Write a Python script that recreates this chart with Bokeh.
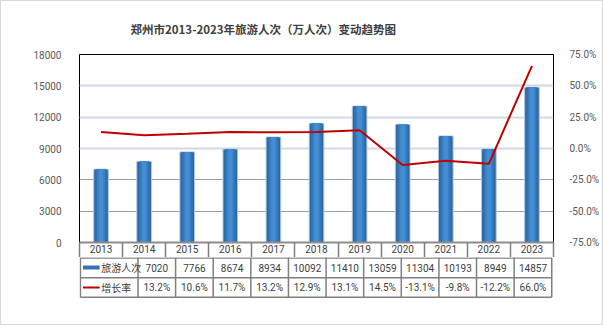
from bokeh.plotting import figure
from bokeh.models import (Range1d, LinearAxis, FixedTicker, PrintfTickFormatter,
                          Grid, Label, ColumnDataSource)
from bokeh.layouts import column
from bokeh.embed import file_html
from bokeh.resources import INLINE
from bokeh.core.properties import value

# ---------------- data ----------------
years = ["2013", "2014", "2015", "2016", "2017", "2018", "2019", "2020", "2021", "2022", "2023"]
visitors = [7020, 7766, 8674, 8934, 10092, 11410, 13059, 11304, 10193, 8949, 14857]
growth = [13.2, 10.6, 11.7, 13.2, 12.9, 13.1, 14.5, -13.1, -9.8, -12.2, 66.0]
left_ticks = [0, 3000, 6000, 9000, 12000, 15000, 18000]
right_ticks = [-75, -50, -25, 0, 25, 50, 75]
series_names = ["旅游人次", "增长率"]
title_text = "郑州市2013-2023年旅游人次（万人次）变动趋势图"
source_text = "数据来源：国家统计局， UHC合纵酒店顾问整理"

CJK = "Noto Sans CJK SC"
LAT = "Roboto"
TXT = "#404040"
AX = "#595959"
LC = "#7f7f7f"

n = len(years)
idx = list(range(n))

# ---------------- chart ----------------
p1 = figure(width=601, height=256, output_backend="svg", toolbar_location=None,
            x_range=Range1d(-0.5, n - 0.5), y_range=Range1d(left_ticks[0], left_ticks[-1]),
            x_axis_location=None, y_axis_location=None,
            min_border_left=78, min_border_right=49, min_border_top=50, min_border_bottom=15)
p1.extra_y_ranges = {"pct": Range1d(right_ticks[0], right_ticks[-1])}
p1.outline_line_color = "#000000"
p1.outline_line_width = 1
p1.xgrid.visible = False
p1.ygrid.visible = False
p1.border_fill_color = "white"

p1.title.text = title_text
p1.title.align = "left"
p1.title.offset = 51
p1.title.text_font = CJK
p1.title.text_font_size = "11.5px"
p1.title.text_font_style = "bold"
p1.title.text_color = TXT
p1.title.standoff = 35

ly = LinearAxis(ticker=FixedTicker(ticks=left_ticks))
ly.axis_line_color = None
ly.major_tick_line_color = None
ly.minor_tick_line_color = None
ly.major_label_standoff = 12
ly.major_label_text_font = LAT
ly.major_label_text_font_size = "10px"
ly.major_label_text_color = AX
p1.add_layout(ly, "left")

ry = LinearAxis(y_range_name="pct", ticker=FixedTicker(ticks=right_ticks),
                formatter=PrintfTickFormatter(format="%.1f%%"))
ry.axis_line_color = None
ry.major_tick_line_color = None
ry.minor_tick_line_color = None
ry.major_label_standoff = 10
ry.major_label_text_font = LAT
ry.major_label_text_font_size = "10px"
ry.major_label_text_color = AX
p1.add_layout(ry, "right")

# year row of the data table = x axis (separators as minor ticks)
xa = LinearAxis(ticker=FixedTicker(ticks=idx, minor_ticks=[i - 0.5 for i in range(n + 1)]),
                major_label_overrides={i: y for i, y in zip(idx, years)})
xa.axis_line_color = "#8c8c8c"
xa.axis_line_width = 2
xa.major_tick_line_color = None
xa.major_tick_out = 0
xa.major_tick_in = 0
xa.minor_tick_line_color = LC
xa.minor_tick_line_width = 1.5
xa.minor_tick_out = 16
xa.minor_tick_in = 0
xa.major_label_standoff = -14
xa.major_label_text_font = LAT
xa.major_label_text_font_size = "10px"
xa.major_label_text_color = TXT
p1.add_layout(xa, "below")

g_hi = Grid(dimension=1, ticker=FixedTicker(ticks=left_ticks[3:-1]),
            grid_line_color="#d2d8e4", grid_line_width=2)
g_lo = Grid(dimension=1, ticker=FixedTicker(ticks=left_ticks[1:3]),
            grid_line_color="#8d9fc2", grid_line_width=1)
p1.add_layout(g_hi)
p1.add_layout(g_lo)

src = ColumnDataSource(dict(x=idx, v=visitors, g=growth))
p1.vbar(x="x", top="v", width=0.34, source=src, fill_color="#2c66a4",
        line_color="#b3c8e2", line_width=1)
for w, c in [(0.26, "#3272b2"), (0.18, "#3a7fc1"), (0.10, "#438ed3")]:
    p1.vbar(x="x", top="v", width=w, source=src, fill_color=c, line_color=None)

p1.line(x="x", y="g", source=src, y_range_name="pct", line_color="#c00000", line_width=2)

# ---------------- data table (value rows) ----------------
px_per_unit = 474 / n
x_start = -0.5 - (79 - 12) / px_per_unit
x_end = n - 0.5 + 2 / px_per_unit
tbl_left = -0.5 - 66 / px_per_unit

p2 = figure(width=601, height=67, output_backend="svg", toolbar_location=None,
            x_range=Range1d(x_start, x_end), y_range=Range1d(-2, 40),
            x_axis_location=None, y_axis_location=None,
            min_border_left=11, min_border_right=47, min_border_top=0, min_border_bottom=25)
p2.outline_line_color = None
p2.xgrid.visible = False
p2.ygrid.visible = False
p2.border_fill_color = "white"

row1_top, row2_top, row_bot = 39.5, 19.7, 0.3
p2.segment(x0=[tbl_left] * 3, y0=[row1_top, row2_top, row_bot],
           x1=[n - 0.5] * 3, y1=[row1_top, row2_top, row_bot],
           line_color=LC, line_width=1.5)
vx = [i - 0.5 for i in range(n + 1)] + [tbl_left]
p2.segment(x0=vx, y0=[40] * len(vx), x1=vx, y1=[row_bot] * len(vx),
           line_color=LC, line_width=1.5)

tsrc = ColumnDataSource(dict(x=idx, v=[str(v) for v in visitors],
                             g=["%.1f%%" % g for g in growth]))
common = dict(text_align="center", text_baseline="middle", text_color=TXT,
              text_font=value(LAT), text_font_size="10px")
p2.text(x="x", y=29.8, text="v", source=tsrc, **common)
p2.text(x="x", y=9.9, text="g", source=tsrc, **common)

# legend keys
kx0 = x_start + 4 / px_per_unit
kx1 = x_start + 23 / px_per_unit
p2.quad(left=[kx0], right=[kx1], bottom=[28], top=[32], fill_color="#3274b4", line_color=None)
p2.segment(x0=[kx0], y0=[10], x1=[kx1], y1=[10], line_color="#c00000", line_width=2)
tx = x_start + 25 / px_per_unit
p2.text(x=[tx, tx], y=[29.8, 9.9], text=series_names, text_align="left",
        text_baseline="middle", text_color=TXT, text_font=value(CJK), text_font_size="10px")

p2.add_layout(Label(x=x_start + (557 - 12) / px_per_unit, y=-16, text=source_text,
                    text_align="right", text_baseline="middle", text_color=AX,
                    text_font=CJK, text_font_size="10px"))

layout = column(p1, p2, spacing=0, styles={"border": "1px solid #d9d9d9"})
open("out.html", "w").write(file_html(layout, INLINE))
